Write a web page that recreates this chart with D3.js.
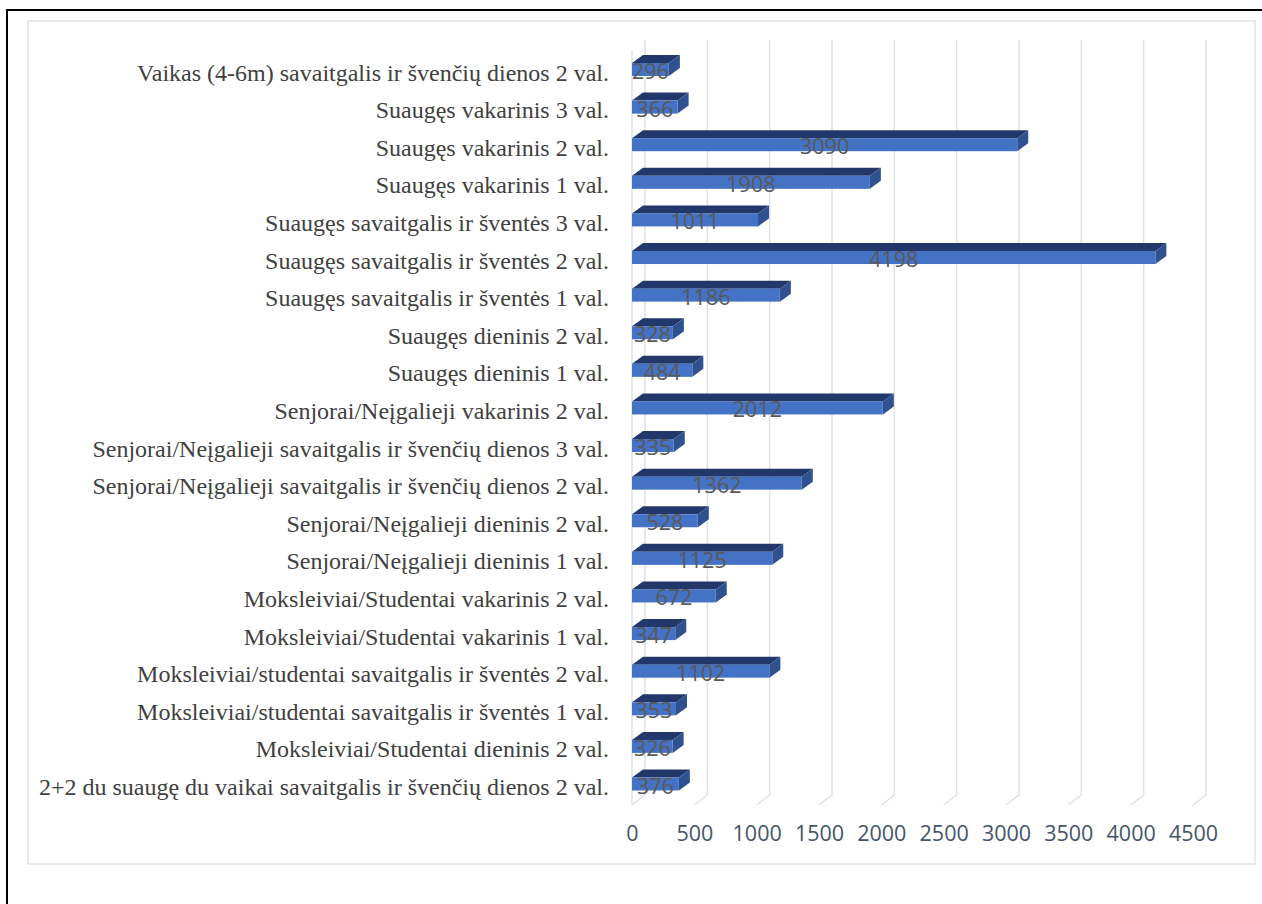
<!DOCTYPE html>
<html><head><meta charset="utf-8">
<script src="https://cdn.jsdelivr.net/npm/d3@7"></script>
<style>html,body{margin:0;padding:0;background:#fff;overflow:hidden}</style>
</head><body>
<svg id="c" width="1262" height="904"></svg>
<script>
const categories = [
  "Vaikas (4-6m) savaitgalis ir švenčių dienos 2 val.",
  "Suaugęs vakarinis 3 val.",
  "Suaugęs vakarinis 2 val.",
  "Suaugęs vakarinis 1 val.",
  "Suaugęs savaitgalis ir šventės 3 val.",
  "Suaugęs savaitgalis ir šventės 2 val.",
  "Suaugęs savaitgalis ir šventės 1 val.",
  "Suaugęs dieninis 2 val.",
  "Suaugęs dieninis 1 val.",
  "Senjorai/Neįgalieji vakarinis 2 val.",
  "Senjorai/Neįgalieji savaitgalis ir švenčių dienos 3 val.",
  "Senjorai/Neįgalieji savaitgalis ir švenčių dienos 2 val.",
  "Senjorai/Neįgalieji dieninis 2 val.",
  "Senjorai/Neįgalieji dieninis 1 val.",
  "Moksleiviai/Studentai vakarinis 2 val.",
  "Moksleiviai/Studentai vakarinis 1 val.",
  "Moksleiviai/studentai savaitgalis ir šventės 2 val.",
  "Moksleiviai/studentai savaitgalis ir šventės 1 val.",
  "Moksleiviai/Studentai dieninis 2 val.",
  "2+2 du suaugę du vaikai savaitgalis ir švenčių dienos 2 val."
];
const values = [296, 366, 3090, 1908, 1011, 4198, 1186, 328, 484, 2012, 335, 1362, 528, 1125, 672, 347, 1102, 353, 326, 376];
const tickValues = [0, 500, 1000, 1500, 2000, 2500, 3000, 3500, 4000, 4500];

const svg = d3.select("#c");
// outer black frame (top + left visible)
svg.append("path").attr("d", "M7,904 L7,10 L1262,10").attr("fill", "none").attr("stroke", "#000").attr("stroke-width", 2);
// chart area border
svg.append("rect").attr("x", 28).attr("y", 21).attr("width", 1227).attr("height", 843)
  .attr("fill", "#fff").attr("stroke", "#dfe3e8").attr("stroke-width", 1.5);

const x = d3.scaleLinear().domain([0, 4500]).range([632, 1193]);
const y = d3.scalePoint().domain(categories).range([69.5, 784]);
const DX = 13, DY = 10;           // wall depth
const bx = 11, by = 8;            // bar depth
const bh = 13;                    // bar front height
const backTop = 40, backBottom = 795;
const gridColor = "#dde1e8";

const g = svg.append("g");
// back gridlines + floor diagonals
tickValues.forEach(t => {
  const xb = x(t) + DX;
  g.append("path")
    .attr("d", `M${xb},${backTop} L${xb},${backBottom} L${x(t)},${backBottom + DY}`)
    .attr("fill", "none").attr("stroke", gridColor).attr("stroke-width", 1.5);
});
// left wall front edge
g.append("line").attr("x1", x(0)).attr("x2", x(0)).attr("y1", backTop + DY).attr("y2", backBottom + DY)
  .attr("stroke", gridColor).attr("stroke-width", 1.5);

// bars
const bars = svg.append("g").selectAll("g").data(categories).join("g");
bars.each(function(c, i) {
  const v = values[i];
  const x0 = x(0), x1 = x(v);
  const yt = y(c) - bh / 2, yb = y(c) + bh / 2;
  const s = d3.select(this);
  s.append("path").attr("d", `M${x0},${yt} L${x0 + bx},${yt - by} L${x1 + bx},${yt - by} L${x1},${yt} Z`).attr("fill", "#22386a");
  s.append("path").attr("d", `M${x1},${yt} L${x1 + bx},${yt - by} L${x1 + bx},${yb - by} L${x1},${yb} Z`).attr("fill", "#2f5190");
  s.append("rect").attr("x", x0).attr("y", yt).attr("width", x1 - x0).attr("height", bh).attr("fill", "#4472c4");
});

// data labels
svg.append("clipPath").attr("id", "clipL").append("rect").attr("x", x(0)).attr("y", 0).attr("width", 700).attr("height", 904);
svg.append("g").attr("clip-path", "url(#clipL)").selectAll("text").data(categories).join("text")
  .attr("x", (c, i) => (x(0) + x(values[i])) / 2)
  .attr("y", c => y(c) + 1)
  .attr("text-anchor", "middle").attr("dominant-baseline", "central")
  .attr("font-family", "'Open Sans', sans-serif").attr("font-size", 21.5)
  .attr("fill", "#595959")
  .text((c, i) => values[i]);

// category labels
svg.append("g").selectAll("text").data(categories).join("text")
  .attr("x", 609).attr("y", c => y(c) + 3)
  .attr("text-anchor", "end").attr("dominant-baseline", "central")
  .attr("font-family", "'Liberation Serif', 'Times New Roman', serif").attr("font-size", 24)
  .attr("fill", "#404040")
  .text(c => c);

// x axis tick labels
const axis = d3.axisBottom(x).tickValues(tickValues).tickSize(0).tickPadding(0).tickFormat(d3.format("d"));
const ax = svg.append("g").attr("transform", "translate(0,826)").call(axis);
ax.select(".domain").remove();
ax.selectAll("text").attr("font-family", "'Open Sans', sans-serif").attr("font-size", 21.5).attr("fill", "#44546a");
</script>
</body></html>
